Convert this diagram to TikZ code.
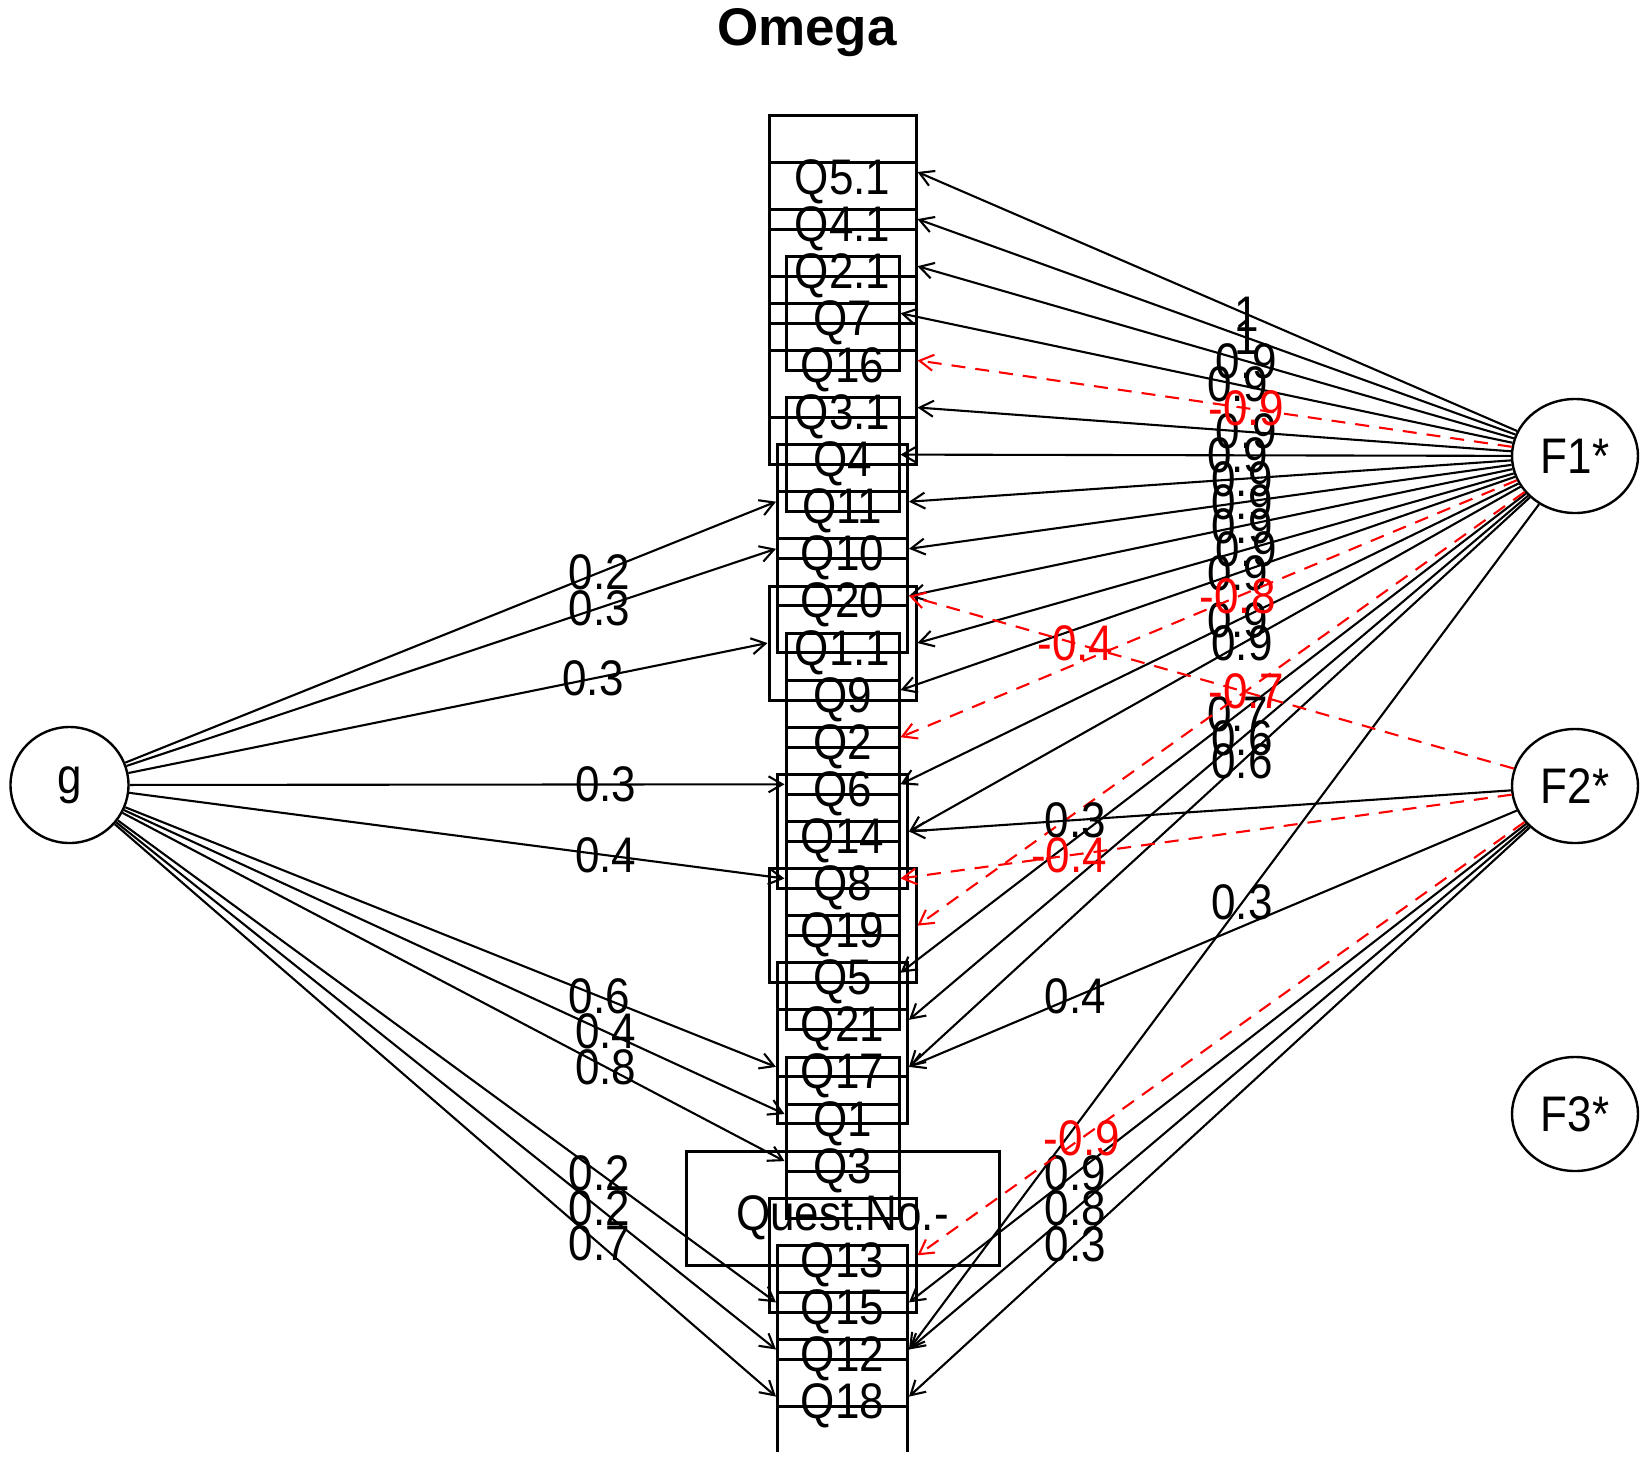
\documentclass[tikz,border=0pt]{standalone}
\usepackage{fontspec}
\setmainfont{Liberation Sans}
\newfontfamily\rfont[FakeStretch=0.88]{Liberation Sans}
\usetikzlibrary{arrows.meta,shapes.geometric,calc}
\begin{document}
\begin{tikzpicture}[x=1pt,y=-1pt,
  var/.style={draw, line width=3pt, rectangle, minimum height=114pt, inner sep=0pt,
    text height=44pt, text depth=0pt,
    font=\rfont\fontsize{50}{50}\selectfont},
  fac/.style={draw, ellipse, line width=2.4pt, inner sep=0pt,
    font=\rfont\fontsize{50}{50}\selectfont},
  ttl/.style={font=\bfseries\fontsize{53}{53}\selectfont, inner sep=0pt},
  ep/.style={line width=2.1pt, -{Straight Barb[angle=60:16pt]}},
  en/.style={ep, red, dash pattern=on 14pt off 10pt},
  lp/.style={inner sep=0pt, font=\rfont\fontsize{50}{50}\selectfont},
  ln/.style={lp, text=red}]
\useasboundingbox (0,0) rectangle (1652,1465);
\fill[white] (0,0) rectangle (1652,1465);
\begin{scope}
\clip (0,0) rectangle (1652,1451);
\node[ttl] (title) at (807,33) {Omega};
% variables
\foreach \k/\lab/\hw in {0/Q5.1/73.5, 1/Q4.1/73.5, 2/Q2.1/73.5, 3/Q7/56.5, 4/Q16/73.5,
  5/Q3.1/73.5, 6/Q4/56.5, 7/Q11/65, 8/Q10/65, 9/Q20/65, 10/Q1.1/73.5, 11/Q9/56.5,
  12/Q2/56.5, 13/Q6/56.5, 14/Q14/65, 15/Q8/56.5, 16/Q19/73.5, 17/Q5/56.5, 18/Q21/65,
  19/Q17/65, 20/Q1/56.5, 21/Q3/56.5, 22/Quest.No.-/156.5, 23/Q13/73.5, 24/Q15/65,
  25/Q12/65, 26/Q18/65}{
  \node[var, minimum width=2*\hw] (v\k) at (842.5,{172+47.1*\k}) {\lab};
}
% factors
\node[fac, minimum width=118pt, minimum height=116pt] (g) at (69.5,785) {g};
\node[fac, minimum width=126pt, minimum height=114pt] (F1) at (1575,456) {F1*};
\node[fac, minimum width=126pt, minimum height=114pt] (F2) at (1575,786) {F2*};
\node[fac, minimum width=126pt, minimum height=114pt] (F3) at (1575,1114) {F3*};
% g loadings
\foreach \k/\val in {7/0.2, 8/0.3, 10/0.3, 13/0.3, 15/0.4, 19/0.6, 20/0.4, 21/0.8,
  24/0.2, 25/0.2, 26/0.7}{
  \draw[ep] (g) -- (v\k.west);
  \node[lp] at ($(g.center)!0.75!(v\k.west)$) {\val};
}
% F1 loadings
\foreach \k/\val in {0/1, 1/1, 2/0.9, 3/0.9, 5/0.9, 6/0.9, 7/0.9, 8/0.9, 9/0.9,
  10/0.9, 11/0.9, 13/0.9, 14/0.9, 17/0.7, 18/0.6, 19/0.6, 25/0.3}{
  \draw[ep] (F1) -- (v\k.east);
  \node[lp] at ($(F1.center)!0.5!(v\k.east)$) {\val};
}
\foreach \k/\val in {4/-0.9, 12/-0.8, 16/-0.7}{
  \draw[en] (F1) -- (v\k.east);
  \node[ln] at ($(F1.center)!0.5!(v\k.east)$) {\val};
}
% F2 loadings
\foreach \k/\val in {14/0.3, 19/0.4, 24/0.9, 25/0.8, 26/0.3}{
  \draw[ep] (F2) -- (v\k.east);
  \node[lp] at ($(F2.center)!0.75!(v\k.east)$) {\val};
}
\foreach \k/\val in {9/-0.4, 15/-0.4, 23/-0.9}{
  \draw[en] (F2) -- (v\k.east);
  \node[ln] at ($(F2.center)!0.75!(v\k.east)$) {\val};
}
\end{scope}
\end{tikzpicture}
\end{document}
